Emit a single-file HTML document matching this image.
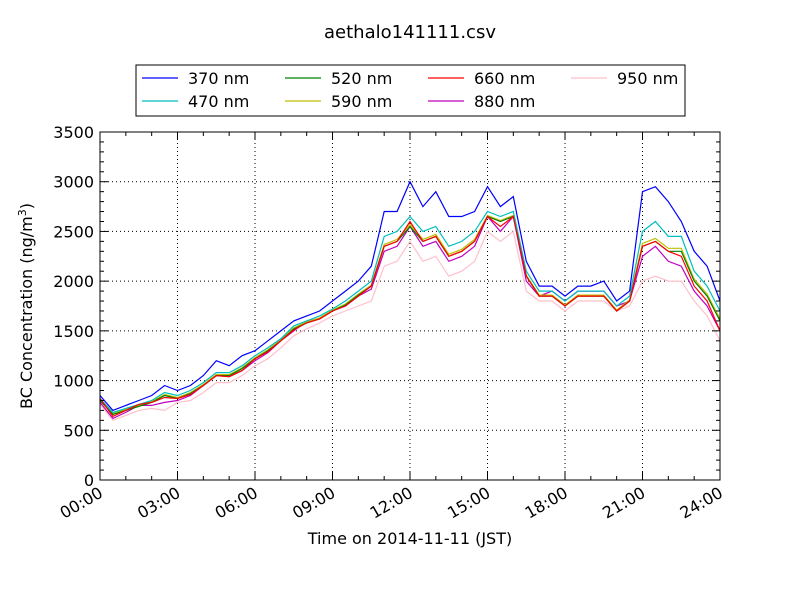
<!DOCTYPE html>
<html><head><meta charset="utf-8"><style>
body{margin:0;background:#fff}
svg{display:block;font-family:"DejaVu Sans","Liberation Sans",sans-serif}
</style></head><body>
<svg id="chart" width="800" height="600" viewBox="0 0 800 600" xmlns="http://www.w3.org/2000/svg">
<rect width="800" height="600" fill="#fff"/>
<text x="410" y="38" font-size="18" text-anchor="middle">aethalo141111.csv</text>
<g id="grid"></g>
<g id="series"></g>
<rect x="100" y="132" width="620" height="348" fill="none" stroke="#000" stroke-width="1"/>
<g id="ticks"></g>
<text x="410" y="544" font-size="16" text-anchor="middle">Time on 2014-11-11 (JST)</text>
<text transform="translate(32,306) rotate(-90)" font-size="16" text-anchor="middle">BC Concentration (ng/m<tspan font-size="11" dy="-6">3</tspan><tspan dy="6">)</tspan></text>
<g id="legend">
<rect x="136" y="65" width="549" height="51" fill="#fff" stroke="#000"/>
</g>
</svg>
<script>
const hours = [];
for (let i = 0; i <= 48; i++) hours.push(i * 0.5);
const s370 = [850,700,750,800,850,950,900,950,1050,1200,1150,1250,1300,1400,1500,1600,1650,1700,1800,1900,2000,2150,2700,2700,3000,2750,2900,2650,2650,2700,2950,2750,2850,2200,1950,1950,1850,1950,1950,2000,1800,1900,2900,2950,2800,2600,2300,2150,1800];
const s470 = [820,680,720,760,800,880,850,900,980,1080,1080,1150,1250,1330,1420,1550,1600,1650,1720,1800,1900,2000,2450,2500,2650,2500,2550,2350,2400,2500,2700,2650,2700,2100,1900,1900,1800,1900,1900,1900,1750,1850,2500,2600,2450,2450,2100,1950,1700];
const s520 = [800,660,700,740,780,850,820,870,950,1050,1050,1120,1220,1300,1400,1520,1580,1620,1700,1760,1860,1950,2350,2400,2550,2400,2450,2250,2300,2400,2650,2600,2650,2050,1850,1850,1750,1850,1850,1850,1700,1800,2350,2400,2300,2300,2000,1850,1600];
const s590 = [810,670,710,750,790,860,830,880,960,1060,1060,1130,1230,1310,1410,1530,1590,1630,1710,1770,1870,1960,2370,2420,2570,2420,2470,2270,2320,2420,2660,2610,2660,2060,1860,1860,1760,1860,1860,1860,1710,1810,2380,2430,2330,2330,2020,1870,1620];
const s660 = [820,640,700,760,780,830,820,860,950,1050,1040,1100,1220,1290,1400,1510,1580,1620,1700,1750,1850,1950,2350,2400,2600,2400,2450,2250,2300,2400,2650,2550,2650,2050,1850,1850,1750,1850,1850,1850,1700,1800,2350,2400,2300,2250,1950,1800,1500];
const s880 = [780,620,680,750,750,780,800,850,950,1050,1040,1100,1200,1280,1400,1500,1600,1620,1700,1750,1850,1920,2300,2350,2550,2350,2400,2200,2250,2350,2650,2500,2650,2000,1850,1900,1800,1900,1900,1900,1750,1800,2250,2350,2200,2150,1900,1750,1500];
const s950 = [760,600,650,700,720,700,780,800,880,980,980,1050,1150,1220,1330,1450,1520,1580,1650,1700,1750,1800,2150,2200,2400,2200,2250,2050,2100,2200,2500,2400,2500,1900,1800,1800,1700,1800,1800,1800,1700,1750,2000,2050,2000,2000,1800,1650,1400];
const seriesNames = ["370 nm","470 nm","520 nm","590 nm","660 nm","880 nm","950 nm"];
const yTicks = [0,500,1000,1500,2000,2500,3000,3500];
const xTickLabels = ["00:00","03:00","06:00","09:00","12:00","15:00","18:00","21:00","24:00"];
const xTickHours = [0,3,6,9,12,15,18,21,24];

const NS = "http://www.w3.org/2000/svg";
const X0=100,X1=720,Y0=480,Y1=132;
const xs = h => X0 + (X1-X0)*h/24;
const ys = v => Y0 - (Y0-Y1)*v/3500;
function mk(tag, attrs, parent){const e=document.createElementNS(NS,tag);for(const k in attrs)e.setAttribute(k,attrs[k]);parent.appendChild(e);return e;}
const grid=document.getElementById('grid'), ticks=document.getElementById('ticks'), ser=document.getElementById('series'), leg=document.getElementById('legend');

yTicks.forEach((v,i)=>{
  const y=ys(v);
  if(v>0&&v<3500){const g=mk('line',{x1:X0,x2:X1,y1:y,y2:y,stroke:'#000','stroke-dasharray':'1,3','stroke-width':1},grid);
  
  }
  mk('line',{x1:X0,x2:X0+8,y1:y,y2:y,stroke:'#000'},ticks);
  mk('line',{x1:X1,x2:X1-8,y1:y,y2:y,stroke:'#000'},ticks);
  const t=mk('text',{x:X0-6,y:y+6,'font-size':16,'text-anchor':'end'},ticks);
  
  
  t.textContent=v;
});
for(let v=100;v<3500;v+=100){if(v%500===0)continue;const y=ys(v);
  mk('line',{x1:X0,x2:X0+4,y1:y,y2:y,stroke:'#000'},ticks);
  mk('line',{x1:X1,x2:X1-4,y1:y,y2:y,stroke:'#000'},ticks);}
for(let h=1;h<24;h++){if(h%3===0)continue;const x=xs(h);
  mk('line',{x1:x,x2:x,y1:Y0,y2:Y0-4,stroke:'#000'},ticks);
  mk('line',{x1:x,x2:x,y1:Y1,y2:Y1+4,stroke:'#000'},ticks);}
xTickHours.forEach((h,i)=>{
  const x=xs(h);
  if(h>0&&h<24){const g=mk('line',{x1:x,x2:x,y1:Y0,y2:Y1,stroke:'#000','stroke-dasharray':'1,3','stroke-width':1},grid);
  
  }
  mk('line',{x1:x,x2:x,y1:Y0,y2:Y0-8,stroke:'#000'},ticks);
  mk('line',{x1:x,x2:x,y1:Y1,y2:Y1+8,stroke:'#000'},ticks);
  const t=mk('text',{transform:`translate(${x+4},${Y0+16}) rotate(-30)`,'font-size':16,'text-anchor':'end'},ticks);
  
  
  t.textContent=xTickLabels[i];
});

const allSeries=[s370,s470,s520,s590,s660,s880,s950];
const colors=["#0000ff","#00bfbf","#008000","#bfbf00","#ff0000","#bf00bf","#ffc0cb"];
const drawOrder=[6,5,3,2,1,4,0];
drawOrder.forEach(i=>{
  const d=allSeries[i].map((v,j)=>(j?'L':'M')+xs(hours[j]).toFixed(1)+','+ys(v).toFixed(1)).join(' ');
  const p=mk('path',{d:d,fill:'none',stroke:colors[i],'stroke-width':1.2},ser);
  
  
});
const legPos=[[142,78],[142,101],[285,78],[285,101],[428,78],[428,101],[571,78]];
seriesNames.forEach((n,i)=>{
  const [x,y]=legPos[i];
  const g=mk('g',{},leg);
  
  
  mk('line',{x1:x,x2:x+36,y1:y,y2:y,stroke:colors[i],'stroke-width':1.2},g);
  const t=mk('text',{x:x+46,y:y+6,'font-size':16},g);
  t.textContent=n;
});
</script>
</body></html>
